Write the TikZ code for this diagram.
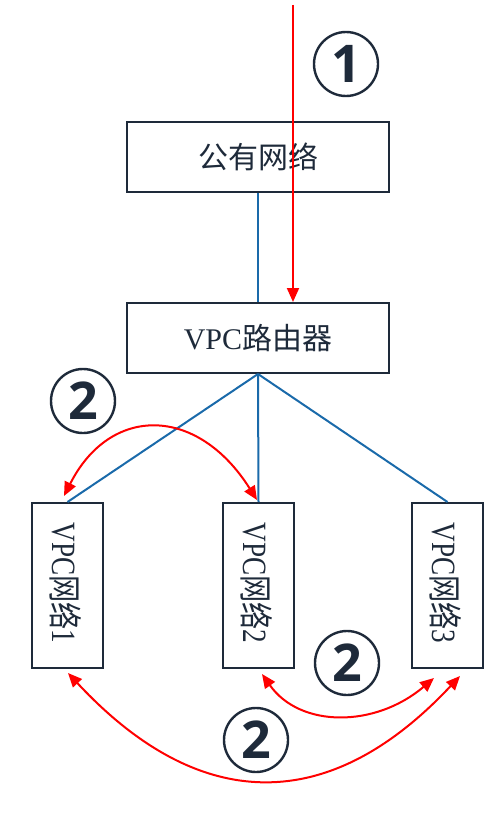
\documentclass[tikz,border=0pt]{standalone}
\usepackage{fontspec}
\setmainfont{Liberation Serif}
\newfontfamily\cjk{Noto Sans CJK SC}
\newfontfamily\numfont{Open Sans}
\usetikzlibrary{arrows.meta}
\definecolor{navy}{HTML}{1E2A3A}
\definecolor{lineblue}{HTML}{1A6AAA}
\definecolor{arrred}{HTML}{FF0000}
\begin{document}
\begin{tikzpicture}[x=1pt,y=-1pt,
  box/.style={draw=navy, line width=2pt, minimum width=262pt, minimum height=70pt, inner sep=0pt, text=navy, font=\fontsize{30}{30}\selectfont},
  vbox/.style={draw=navy, line width=2pt, minimum width=71pt, minimum height=165pt, inner sep=0pt},
  vtext/.style={rotate=-90, inner sep=0pt, text=navy, font=\fontsize{34}{34}\selectfont},
  link/.style={draw=lineblue, line width=2pt},
  flow/.style={draw=arrred, line width=2pt},
  num/.style={circle, draw=navy, line width=2.4pt, minimum size=64pt, inner sep=0pt, text=navy, font=\numfont\bfseries\fontsize{52}{52}\selectfont},
  tip/.tip={Triangle[length=14pt,width=12pt]}
]
\useasboundingbox (0,0) rectangle (484,832);

% boxes
\node[box] (pub) at (258,157) {\cjk 公有网络};
\node[box] (rt) at (258,338) {VPC{\cjk 路由器}};
\node[vbox] (v1) at (67.5,585.5) {};
\node[vbox] (v2) at (258.5,585.5) {};
\node[vbox] (v3) at (447.5,585.5) {};
\node[vtext] (v1t) at (66,583) {\scalebox{0.8}[1]{VPC{\cjk 网络}1}};
\node[vtext] (v2t) at (257,583) {\scalebox{0.8}[1]{VPC{\cjk 网络}2}};
\node[vtext] (v3t) at (446,583) {\scalebox{0.8}[1]{VPC{\cjk 网络}3}};

% blue links
\draw[link] (pub.south) -- (rt.north);
\draw[link] (rt.south) -- (v1.north);
\draw[link] (rt.south) -- (v2.north);
\draw[link] (rt.south) -- (v3.north);

% circled numbers
\node[num] (n1) at (346,64) {1};
\node[num] (n2a) at (83,401) {2};
\node[num] (n2b) at (347,663) {2};
\node[num] (n2c) at (256,740) {2};

% red flows
\coordinate (src) at (293,5);
\draw[flow, -tip] (src) -- (src |- rt.north);

\coordinate (a1) at (64,496);
\coordinate (a2) at (257,500);
\draw[flow, tip-tip] (a1) .. controls (110,405) and (197,405) .. (a2);

\coordinate (b1) at (262,674);
\coordinate (b2) at (434,678);
\draw[flow, tip-tip] (b1) .. controls (300,728) and (375,728) .. (b2);

\coordinate (c1) at (68,673);
\coordinate (c2) at (460,676);
\draw[flow, tip-tip] (c1) .. controls (200,815) and (330,815) .. (c2);
\end{tikzpicture}
\end{document}
